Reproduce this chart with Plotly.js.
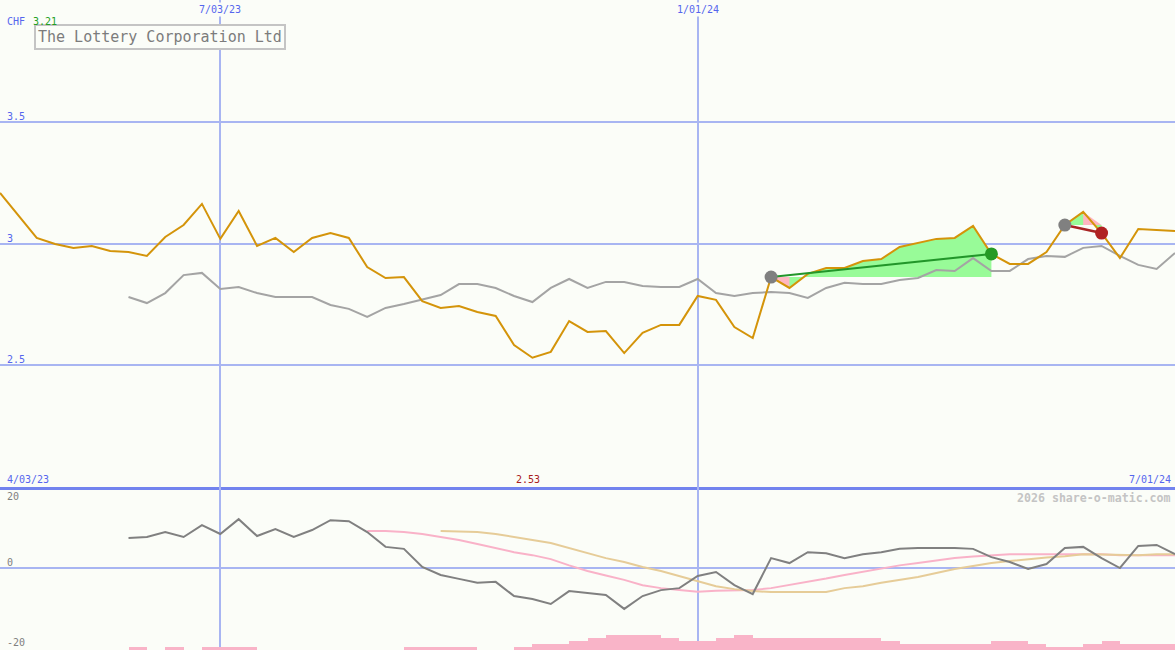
<!DOCTYPE html>
<html>
<head>
<meta charset="utf-8">
<script src="https://cdn.plot.ly/plotly-3.0.1.min.js"></script>
<style>
html,body{margin:0;padding:0;background:#fbfdf8;}
#chart{width:1175px;height:650px;}
</style>
</head>
<body>
<div id="chart"></div>
<script>
// ---------- DATA (weekly) ----------
const dates = [
 '2023-04-10','2023-04-17','2023-04-24','2023-05-01','2023-05-08','2023-05-15','2023-05-22','2023-05-29',
 '2023-06-05','2023-06-12','2023-06-19','2023-06-26','2023-07-03','2023-07-10','2023-07-17','2023-07-24',
 '2023-07-31','2023-08-07','2023-08-14','2023-08-21','2023-08-28','2023-09-04','2023-09-11','2023-09-18',
 '2023-09-25','2023-10-02','2023-10-09','2023-10-16','2023-10-23','2023-10-30','2023-11-06','2023-11-13',
 '2023-11-20','2023-11-27','2023-12-04','2023-12-11','2023-12-18','2023-12-25','2024-01-01','2024-01-08',
 '2024-01-15','2024-01-22','2024-01-29','2024-02-05','2024-02-12','2024-02-19','2024-02-26','2024-03-04',
 '2024-03-11','2024-03-18','2024-03-25','2024-04-01','2024-04-08','2024-04-15','2024-04-22','2024-04-29',
 '2024-05-06','2024-05-13','2024-05-20','2024-05-27','2024-06-03','2024-06-10','2024-06-17','2024-06-24',
 '2024-07-01'
];

// share price (CHF), starts at dates[0]
const closePrice = [
 3.210, 3.119, 3.025, 3.000, 2.984, 2.992, 2.971, 2.967, 2.951, 3.029,
 3.078, 3.165, 3.021, 3.136, 2.992, 3.025, 2.967, 3.025, 3.045, 3.025,
 2.905, 2.860, 2.864, 2.765, 2.737, 2.745, 2.720, 2.704, 2.584, 2.532,
 2.556, 2.683, 2.638, 2.642, 2.551, 2.634, 2.667, 2.667, 2.786, 2.770,
 2.658, 2.613, 2.864, 2.819, 2.877, 2.901, 2.901, 2.930, 2.938, 2.988,
 3.004, 3.021, 3.025, 3.074, 2.959, 2.918, 2.918, 2.967, 3.078, 3.132,
 3.045, 2.942, 3.062, 3.058, 3.053
];

// comparison (grey) line, starts at dates[7]
const compareStart = 7;
const compareLine = [
 2.782, 2.757, 2.798, 2.872, 2.881, 2.815, 2.823, 2.798, 2.782, 2.782,
 2.782, 2.749, 2.733, 2.700, 2.737, 2.753, 2.770, 2.790, 2.835, 2.835,
 2.819, 2.786, 2.761, 2.819, 2.856, 2.819, 2.844, 2.844, 2.827, 2.823,
 2.823, 2.856, 2.798, 2.786, 2.798, 2.802, 2.798, 2.778, 2.819, 2.840,
 2.835, 2.835, 2.852, 2.860, 2.893, 2.889, 2.942, 2.889, 2.889, 2.938,
 2.951, 2.947, 2.984, 2.992, 2.951, 2.914, 2.897, 2.963
];

// momentum (lower panel), starts at dates[7]
const momentumStart = 7;
const momentum = [
 9.1, 9.4, 10.9, 9.4, 13.0, 10.3, 14.8, 9.7, 11.8, 9.4,
 11.5, 14.5, 14.2, 10.9, 6.4, 5.8, 0.3, -2.1, -3.3, -4.5,
 -4.2, -8.5, -9.4, -10.9, -7.0, -7.6, -8.2, -12.4, -8.5, -6.7,
 -6.1, -2.4, -1.2, -5.2, -7.9, 3.0, 1.5, 4.8, 4.5, 3.0,
 4.2, 4.8, 5.8, 6.1, 6.1, 6.1, 5.8, 3.3, 1.8, -0.3,
 1.2, 6.1, 6.4, 3.0, 0.0, 6.7, 7.0, 4.2
];

// fast average of momentum (pink), starts at dates[20]
const fastStart = 20;
const fastAvg = [
 11.2, 11.2, 10.9, 10.3, 9.4, 8.5, 7.3, 6.1, 4.8, 3.9,
 2.7, 0.8, -0.9, -2.3, -3.6, -5.2, -6.1, -6.7, -7.2, -6.9,
 -6.8, -6.7, -6.1, -5.2, -4.2, -3.2, -2.1, -1.1, 0.0, 0.8,
 1.5, 2.3, 3.0, 3.5, 3.9, 4.2, 4.2, 4.2, 4.2, 4.2,
 4.2, 3.9, 3.9, 3.9, 3.9
];

// slow average of momentum (tan), starts at dates[24]
const slowStart = 24;
const slowAvg = [
 11.2, 11.1, 10.9, 10.3, 9.5, 8.5, 7.6, 6.1, 4.5, 3.0,
 1.8, 0.3, -0.9, -2.4, -3.9, -5.5, -6.4, -7.0, -7.3, -7.3,
 -7.2, -7.3, -6.1, -5.5, -4.5, -3.6, -2.7, -1.5, -0.3, 0.6,
 1.5, 2.1, 2.7, 3.2, 3.6, 4.2, 4.1, 3.9, 3.9, 4.2,
 4.2
];

// weekly volume (relative units), starts at dates[7]
const volumeStart = 7;
const volume = [
 1, 0, 1, 0, 1, 1, 1, 0, 0, 0,
 0, 0, 0, 0, 0, 1, 1, 1, 1, 0,
 0, 1, 2, 2, 3, 4, 5, 5, 5, 4,
 3, 3, 4, 5, 4, 4, 4, 4, 4, 4,
 4, 3, 2, 2, 2, 2, 2, 3, 3, 2,
 1, 1, 2, 3, 2, 2, 2
];

// trades: entry / exit week index
const tradeEntry = [42, 58];
const tradeExit  = [54, 60];

const gridLabels = ['7/03/23', '1/01/24'];
const gridDates  = ['2023-07-03', '2024-01-01'];
const priceTicks = [2.5, 3, 3.5];
const lowerTicks = [20, 0, -20];

// ---------- STYLE ----------
const BG = '#fbfdf8';
const GRID = '#a8b5f2';
const BLUE_TXT = '#5566ee';
const MONO = 'DejaVu Sans Mono, Liberation Mono, monospace';
const ORANGE = '#d4940a';

const sub = (arr, start) => dates.slice(start, start + arr.length);
const traces = [];

// trade fills
tradeEntry.forEach((en, t) => {
  const ex = tradeExit[t];
  const lvl = closePrice[en];
  const xs = dates.slice(en, ex + 1).concat([dates[ex], dates[en]]);
  const ys = closePrice.slice(en, ex + 1).concat([lvl, lvl]);
  traces.push({x: xs, y: ys, xaxis: 'x', yaxis: 'y', mode: 'lines', fill: 'toself',
    fillcolor: '#98fb98', line: {width: 0}, hoverinfo: 'skip', showlegend: false});
});
// pink (loss) parts
traces.push({x: [dates[42], dates[43], dates[43]], y: [closePrice[42], closePrice[43], closePrice[42]],
  xaxis: 'x', yaxis: 'y', mode: 'lines', fill: 'toself', fillcolor: '#ffb6c1', line: {width: 0}, showlegend: false});
traces.push({x: [dates[59], dates[60], dates[59]], y: [closePrice[59], closePrice[58], closePrice[58]],
  xaxis: 'x', yaxis: 'y', mode: 'lines', fill: 'toself', fillcolor: '#ffb6c1', line: {width: 0}, showlegend: false});

// grey comparison line
traces.push({x: sub(compareLine, compareStart), y: compareLine, xaxis: 'x', yaxis: 'y', mode: 'lines',
  line: {color: '#a4a4a4', width: 2}, showlegend: false});
// price line
traces.push({x: dates, y: closePrice, xaxis: 'x', yaxis: 'y', mode: 'lines',
  line: {color: ORANGE, width: 2}, showlegend: false});
// trade lines
traces.push({x: [dates[42], dates[54]], y: [closePrice[42], closePrice[54]], xaxis: 'x', yaxis: 'y',
  mode: 'lines', line: {color: '#22962a', width: 2}, showlegend: false});
traces.push({x: [dates[58], dates[60]], y: [closePrice[58], closePrice[60]], xaxis: 'x', yaxis: 'y',
  mode: 'lines', line: {color: '#a82424', width: 2.5}, showlegend: false});
// markers
traces.push({x: tradeEntry.map(i => dates[i]), y: tradeEntry.map(i => closePrice[i]), xaxis: 'x', yaxis: 'y',
  mode: 'markers', marker: {color: '#808080', size: 13}, showlegend: false});
traces.push({x: [dates[54]], y: [closePrice[54]], xaxis: 'x', yaxis: 'y',
  mode: 'markers', marker: {color: '#249a24', size: 13}, showlegend: false});
traces.push({x: [dates[60]], y: [closePrice[60]], xaxis: 'x', yaxis: 'y',
  mode: 'markers', marker: {color: '#b02222', size: 13}, showlegend: false});

// lower panel
traces.push({x: sub(fastAvg, fastStart), y: fastAvg, xaxis: 'x2', yaxis: 'y2', mode: 'lines',
  line: {color: '#f9b2c8', width: 2}, showlegend: false});
traces.push({x: sub(slowAvg, slowStart), y: slowAvg, xaxis: 'x2', yaxis: 'y2', mode: 'lines',
  line: {color: '#e6cc98', width: 2}, showlegend: false});
traces.push({x: sub(momentum, momentumStart), y: momentum, xaxis: 'x2', yaxis: 'y2', mode: 'lines',
  line: {color: '#808080', width: 2}, showlegend: false});
traces.push({x: sub(volume, volumeStart), y: volume, xaxis: 'x2', yaxis: 'y3', type: 'bar',
  width: 7 * 86400000, offset: 0, marker: {color: '#f9b4c8', line: {width: 0}}, showlegend: false});

// ---------- LAYOUT ----------
const splitY = 1 - 487 / 650;
const annotations = [];
const txt = (o) => Object.assign({showarrow: false, font: {family: MONO, size: 10, color: BLUE_TXT}}, o);
const GREYTXT = {family: MONO, size: 10, color: '#808080'};

gridDates.forEach((d, i) => annotations.push(txt({text: gridLabels[i], x: d, xref: 'x', y: 1, yref: 'paper',
  xanchor: 'center', yanchor: 'top', yshift: -2, bgcolor: BG, borderpad: 1})));
annotations.push({text: 'The Lottery Corporation Ltd', x: 160 / 1175, xref: 'paper', y: 1 - 36.5 / 650, yref: 'paper',
  xanchor: 'center', yanchor: 'middle', showarrow: false, bgcolor: BG, bordercolor: '#c4c4c4', borderwidth: 2, borderpad: 2,
  yshift: -1, font: {family: MONO, size: 15, color: '#7c7c7c'}});
annotations.push(txt({text: 'CHF', x: 5 / 1175, xref: 'paper', y: 1 - 21 / 650, yref: 'paper', xanchor: 'left', yanchor: 'middle', yshift: -1}));
annotations.push(txt({text: closePrice[0].toFixed(2), x: 31 / 1175, xref: 'paper', y: 1 - 21 / 650, yref: 'paper',
  xanchor: 'left', yanchor: 'middle', yshift: -1, font: {family: MONO, size: 10, color: '#22a022'}}));
priceTicks.forEach(v => annotations.push(txt({text: String(v), x: 5 / 1175, xref: 'paper', y: v, yref: 'y',
  xanchor: 'left', yanchor: 'bottom', yshift: -2})));
annotations.push(txt({text: '4/03/23', x: 5 / 1175, xref: 'paper', y: splitY, yref: 'paper', xanchor: 'left', yanchor: 'bottom', yshift: 0}));
annotations.push(txt({text: '7/01/24', x: 1, xref: 'paper', xshift: -2, y: splitY, yref: 'paper', xanchor: 'right', yanchor: 'bottom', yshift: 0}));
const minIdx = closePrice.indexOf(Math.min(...closePrice));
annotations.push(txt({text: closePrice[minIdx].toFixed(2), x: dates[minIdx], xref: 'x', xshift: -4, y: splitY, yref: 'paper',
  xanchor: 'center', yanchor: 'bottom', yshift: 0, font: {family: MONO, size: 10, color: '#a82020'}}));
annotations.push({text: '<b>2026 share-o-matic.com</b>', x: 1, xref: 'paper', xshift: -2, y: splitY, yref: 'paper',
  xanchor: 'right', yanchor: 'top', yshift: -2, showarrow: false, font: {family: MONO, size: 11.6, color: '#c4c4c4'}});
annotations.push(txt({text: String(lowerTicks[0]), x: 5 / 1175, xref: 'paper', y: lowerTicks[0], yref: 'y2', xanchor: 'left', yanchor: 'bottom', yshift: -2, font: GREYTXT}));
annotations.push(txt({text: String(lowerTicks[1]), x: 5 / 1175, xref: 'paper', y: lowerTicks[1], yref: 'y2', xanchor: 'left', yanchor: 'bottom', yshift: -2, font: GREYTXT}));
annotations.push(txt({text: String(lowerTicks[2]), x: 5 / 1175, xref: 'paper', y: 0, yref: 'paper', xanchor: 'left', yanchor: 'bottom', font: GREYTXT}));

const xCommon = {type: 'date', range: [dates[0], dates[dates.length - 1]], tickvals: gridDates, showticklabels: false,
  ticks: '', showgrid: true, gridcolor: GRID, gridwidth: 2, zeroline: false, fixedrange: true};

const layout = {
  width: 1175, height: 650, autosize: false,
  margin: {l: 0, r: 0, t: 0, b: 0, pad: 0},
  paper_bgcolor: BG, plot_bgcolor: BG,
  showlegend: false, bargap: 0,
  xaxis: Object.assign({}, xCommon, {domain: [0, 1], anchor: 'y', showline: true, linecolor: '#7283ee', linewidth: 3}),
  xaxis2: Object.assign({}, xCommon, {domain: [0, 1], anchor: 'y2', matches: 'x', showline: false}),
  yaxis: {domain: [splitY, 1], range: [2.0, 4.004], tickvals: priceTicks, showticklabels: false, ticks: '',
    showgrid: true, gridcolor: GRID, gridwidth: 2, zeroline: false, fixedrange: true},
  yaxis2: {domain: [0, splitY], range: [-24.85, 24.55], tickvals: [0], showticklabels: false, ticks: '',
    showgrid: true, gridcolor: GRID, gridwidth: 2, zeroline: false, fixedrange: true},
  yaxis3: {overlaying: 'y2', anchor: 'x2', range: [0, 163 / 3], showticklabels: false, showgrid: false,
    zeroline: false, ticks: '', fixedrange: true},
  annotations: annotations
};

Plotly.newPlot('chart', traces, layout, {displayModeBar: false, staticPlot: true});
</script>
</body>
</html>
